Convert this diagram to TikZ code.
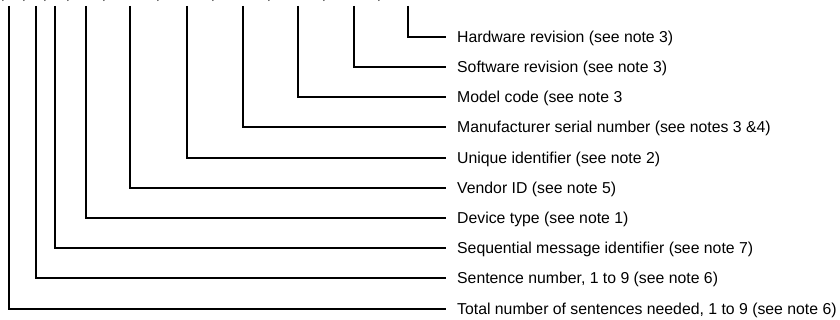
\documentclass[tikz,border=0pt]{standalone}
\usepackage{fontspec}
\setmainfont{Liberation Sans}
\begin{document}
\begin{tikzpicture}[x=1pt,y=-1pt,
  lbl/.style={anchor=west,inner sep=0pt,text height=11.3pt,text depth=0pt,
    font=\fontsize{15.8}{19}\selectfont},
  comma/.style={anchor=base,inner sep=0pt,font=\fontsize{15.8}{19}\selectfont},
  conn/.style={line width=1.4pt,line join=miter}]
\useasboundingbox (0,0) rectangle (840,320);
\clip (0,0) rectangle (840,320);
% clipped fragments of the sentence above
\foreach \cx [count=\i] in {3,24,45,68,104,158,213,269,324,379}
  \node[comma] (cm\i) at (\cx,-0.6) {,};
% labels
\node[lbl] (l1) at (457,37) {Hardware revision (see note 3)};
\node[lbl] (l2) at (457,67) {Software revision (see note 3)};
\node[lbl] (l3) at (457,97) {Model code (see note 3};
\node[lbl] (l4) at (457,127) {Manufacturer serial number (see notes 3 \&4)};
\node[lbl] (l5) at (457,158) {Unique identifier (see note 2)};
\node[lbl] (l6) at (457,188) {Vendor ID (see note 5)};
\node[lbl] (l7) at (457,218) {Device type (see note 1)};
\node[lbl] (l8) at (457,248) {Sequential message identifier (see note 7)};
\node[lbl] (l9) at (457,278) {Sentence number, 1 to 9 (see note 6)};
\node[lbl] (l10) at (457,309) {Total number of sentences needed, 1 to 9 (see note 6)};
% top ends of the connectors
\foreach \tx [count=\i] in {408,354,298,243,187,130,86,55,36,9}
  \coordinate (t\i) at (\tx,6);
\foreach \i in {1,...,10}
  \draw[conn] (t\i) |- ([xshift=-11pt]l\i.west);
\end{tikzpicture}
\end{document}
